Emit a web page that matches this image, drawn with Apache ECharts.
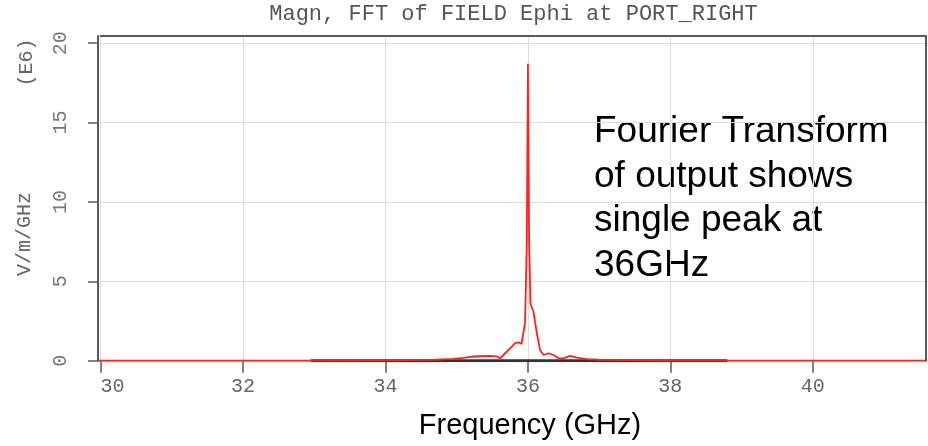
<!DOCTYPE html>
<html>
<head>
<meta charset="utf-8">
<title>Magn, FFT of FIELD Ephi at PORT_RIGHT</title>
<script src="https://cdn.jsdelivr.net/npm/echarts@6/dist/echarts.min.js"></script>
<style>
  html, body { margin: 0; padding: 0; background: #ffffff; }
  #chart { width: 928px; height: 446px; }
</style>
</head>
<body>
<div id="chart"></div>
<script>
// Spectrum of the Ephi field at PORT_RIGHT (magnitude, units of 1e6 V/m/GHz)
const freqGHz = [29.965, 33.0, 34.0, 34.7, 34.95, 35.1, 35.2, 35.3, 35.45, 35.56, 35.61, 35.68, 35.75,
  35.82, 35.87, 35.91, 35.93, 35.96, 35.985, 36.0, 36.007, 36.017, 36.035, 36.077, 36.125, 36.17,
  36.22, 36.29, 36.36, 36.43, 36.5, 36.59, 36.69, 36.83, 37.0, 37.4, 38.0, 41.59];
const magnitudeE6 = [0, 0, 0.02, 0.06, 0.12, 0.18, 0.25, 0.28, 0.3, 0.27, 0.15, 0.47, 0.78,
  1.1, 1.16, 1.06, 1.1, 2.4, 7.6, 18.7, 13.1, 7.6, 3.6, 3.1, 1.73, 0.68,
  0.36, 0.47, 0.36, 0.15, 0.15, 0.3, 0.19, 0.1, 0.06, 0.03, 0, 0];

// Reference trace lying on the baseline
const baseFreqGHz = [32.95, 38.8];
const baseMagnitudeE6 = [0, 0];

// Axis ticks
const xTicks = [30, 32, 34, 36, 38, 40];
const yTicks = [0, 5, 10, 15, 20];

const titleText = 'Magn, FFT of FIELD Ephi at PORT_RIGHT';
const xAxisTitle = 'Frequency (GHz)';
const yUnitText = 'V/m/GHz';
const yScaleText = '(E6)';
const noteLines = ['Fourier Transform', 'of output shows', 'single peak at', '36GHz'];

const mono = '"Liberation Mono", "Courier New", monospace';
const sans = '"Liberation Sans", Arial, sans-serif';
const frameColor = '#5a5a5a';

const chart = echarts.init(document.getElementById('chart'), null, { renderer: 'canvas' });

const pairs = (xs, ys) => xs.map((x, i) => [x, ys[i]]);

chart.setOption({
  animation: false,
  backgroundColor: '#ffffff',
  grid: { left: 100.6, right: 2, top: 36, bottom: 85.3, containLabel: false },
  xAxis: [
    {
      type: 'value', min: 30, max: 41.59, interval: 2, position: 'bottom',
      axisLine: { show: false, onZero: false },
      axisTick: { show: true, inside: false, length: 12, customValues: xTicks,
        lineStyle: { color: frameColor, width: 1.5 } },
      axisLabel: { show: true, margin: 16, showMaxLabel: false, alignMinLabel: 'left',
        fontFamily: mono, fontSize: 20, color: '#666666',
        formatter: v => String(Math.round(v)) },
      splitLine: { show: true, lineStyle: { color: '#dddddd', width: 1 } }
    },
    {
      // upper edge of the plot frame
      type: 'value', min: 30, max: 41.59, position: 'top',
      axisLine: { show: true, onZero: false, lineStyle: { color: frameColor, width: 2 } },
      axisTick: { show: false }, axisLabel: { show: false }, splitLine: { show: false }
    }
  ],
  yAxis: [
    {
      type: 'value', min: 0, max: 20.45, interval: 5, position: 'left', offset: 2.6,
      axisLine: { show: true, onZero: false, lineStyle: { color: frameColor, width: 2 } },
      axisTick: { show: true, inside: false, length: 10, customValues: yTicks,
        lineStyle: { color: frameColor, width: 1.5 } },
      axisLabel: { show: true, rotate: 90, margin: 27, showMaxLabel: false,
        fontFamily: mono, fontSize: 20, color: '#777777',
        formatter: v => String(Math.round(v)) },
      splitLine: { show: true, lineStyle: { color: '#dddddd', width: 1 } }
    },
    {
      // right edge of the plot frame
      type: 'value', min: 0, max: 20.45, position: 'right',
      axisLine: { show: true, onZero: false, lineStyle: { color: frameColor, width: 2 } },
      axisTick: { show: false }, axisLabel: { show: false }, splitLine: { show: false }
    }
  ],
  series: [
    {
      name: 'baseline', type: 'line', xAxisIndex: 0, yAxisIndex: 0,
      data: pairs(baseFreqGHz, baseMagnitudeE6),
      symbol: 'none', silent: true,
      lineStyle: { color: '#333333', width: 3 }
    },
    {
      name: 'Ephi', type: 'line', xAxisIndex: 0, yAxisIndex: 0,
      data: pairs(freqGHz, magnitudeE6),
      symbol: 'none', clip: false, silent: true,
      lineStyle: { color: '#ff2020', width: 1.8 }
    }
  ],
  graphic: [
    {
      type: 'text', x: 513.5, y: 14.5, silent: true,
      style: { text: titleText, font: '22px ' + mono, fill: '#555555',
        textAlign: 'center', textVerticalAlign: 'middle' }
    },
    {
      type: 'text', x: 25, y: 234, rotation: Math.PI / 2, silent: true,
      style: { text: yUnitText, font: '20px ' + mono, fill: '#666666',
        textAlign: 'center', textVerticalAlign: 'middle' }
    },
    {
      type: 'text', x: 27, y: 62.5, rotation: Math.PI / 2, silent: true,
      style: { text: yScaleText, font: '20px ' + mono, fill: '#666666',
        textAlign: 'center', textVerticalAlign: 'middle' }
    },
    {
      type: 'text', x: 530, y: 426, silent: true,
      style: { text: xAxisTitle, font: '29px ' + sans, fill: '#000000',
        textAlign: 'center', textVerticalAlign: 'middle' }
    },
    {
      type: 'text', x: 594, y: 110, silent: true,
      style: { text: noteLines.join('\n'), font: '37px ' + sans, fill: '#000000',
        lineHeight: 44.5, textAlign: 'left', textVerticalAlign: 'top' }
    }
  ]
});
</script>
</body>
</html>
